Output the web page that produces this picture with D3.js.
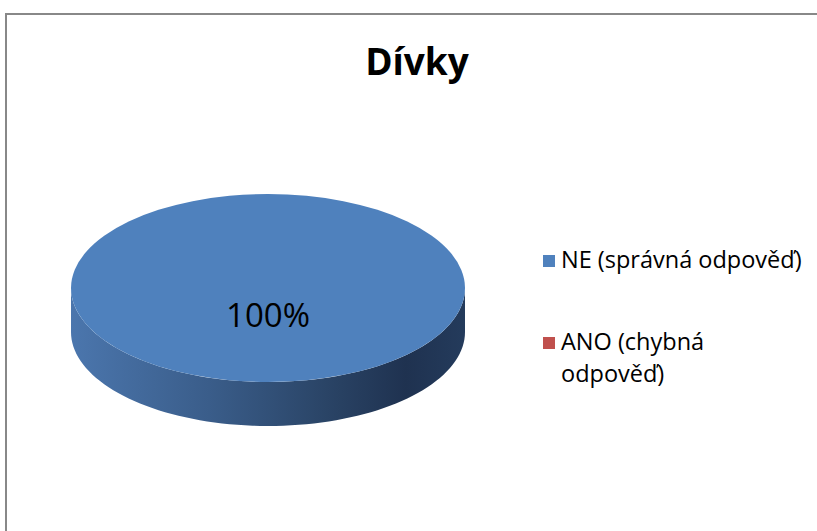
<!DOCTYPE html>
<html>
<head>
<meta charset="utf-8">
<script src="https://cdn.jsdelivr.net/npm/d3@7"></script>
<style>
body{margin:0;background:#fff;}
svg{display:block;font-family:"Open Sans",sans-serif;}
</style>
</head>
<body>
<svg id="chart" width="817" height="531"></svg>
<script>
// chart data
var title = "Dívky";
var categories = ["NE (správná odpověď)", "ANO (chybná odpověď)"];
var legendLines = [["NE (správná odpověď)"], ["ANO (chybná", "odpověď)"]];
var values = [100, 0];
var colors = ["#4f81bd", "#c0504d"];

var svg = d3.select("svg#chart");

// outer frame (only top + left edges fall inside the window)
svg.append("rect")
    .attr("x", 6).attr("y", 14)
    .attr("width", 900).attr("height", 700)
    .attr("fill", "#fff")
    .attr("stroke", "#888").attr("stroke-width", 2);

svg.append("text")
    .attr("x", 417).attr("y", 75)
    .attr("text-anchor", "middle")
    .attr("font-size", 37).attr("font-weight", "bold")
    .attr("fill", "#000")
    .text(title);

// 3d pie geometry
var cx = 268, cy = 288, rx = 197, ry = 94, depth = 44;
var total = d3.sum(values);
var pct = d3.scaleLinear().domain([0, total]).range([0, 100]);

var pie = d3.pie().sort(null).value(function(d){return d;});
var arcs = pie(values);

var defs = svg.append("defs");
var grad = defs.append("linearGradient")
    .attr("id", "sideGrad")
    .attr("gradientUnits", "userSpaceOnUse")
    .attr("x1", cx - rx).attr("x2", cx + rx)
    .attr("y1", 0).attr("y2", 0);
grad.append("stop").attr("offset", "0%").attr("stop-color", "#4b76ad");
grad.append("stop").attr("offset", "35%").attr("stop-color", "#3a5d8a");
grad.append("stop").attr("offset", "65%").attr("stop-color", "#2a4466");
grad.append("stop").attr("offset", "85%").attr("stop-color", "#1f3250");
grad.append("stop").attr("offset", "100%").attr("stop-color", "#243b5c");

var pt = function(a, dy){
    return [cx + rx * Math.sin(a), cy - ry * Math.cos(a) + dy];
};

// side walls: only the front half (pi/2 .. 3pi/2) is visible
var sides = svg.append("g");
arcs.forEach(function(d, i){
    if (d.endAngle - d.startAngle <= 0) return;
    var a0 = Math.max(d.startAngle, Math.PI / 2);
    var a1 = Math.min(d.endAngle, 3 * Math.PI / 2);
    if (a1 <= a0) return;
    var n = 80, top = [], bot = [];
    for (var k = 0; k <= n; k++) {
        var a = a0 + (a1 - a0) * k / n;
        top.push(pt(a, 0));
        bot.push(pt(a, depth));
    }
    var pts = top.concat(bot.reverse());
    sides.append("path")
        .attr("d", d3.line()(pts) + "Z")
        .attr("fill", i === 0 ? "url(#sideGrad)" : d3.color(colors[i]).darker(1));
});

// top surface
var arc = d3.arc().innerRadius(0).outerRadius(rx);
svg.append("g")
    .attr("transform", "translate(" + cx + "," + cy + ") scale(1," + (ry / rx) + ")")
    .selectAll("path")
    .data(arcs.filter(function(d){return d.endAngle > d.startAngle;}))
    .enter()
    .append("path")
    .attr("d", arc)
    .attr("fill", function(d){return colors[d.index];});

// data labels
arcs.forEach(function(d){
    if (d.value <= 0) return;
    var c = (d.endAngle - d.startAngle) >= 2 * Math.PI - 1e-6 ? [0, 0] : arc.centroid(d);
    svg.append("text")
        .attr("x", cx + c[0]).attr("y", cy + c[1] * ry / rx + 39)
        .attr("text-anchor", "middle")
        .attr("font-size", 33)
        .attr("fill", "#000")
        .text(Math.round(pct(d.value)) + "%");
});

// legend
var legendY = [261, 343];
var legend = svg.append("g");
categories.forEach(function(c, i){
    legend.append("rect")
        .attr("x", 543).attr("y", legendY[i] - 6)
        .attr("width", 12).attr("height", 12)
        .attr("fill", colors[i]);
    var t = legend.append("text")
        .attr("x", 561).attr("y", legendY[i] + 7)
        .attr("font-size", 23.5)
        .attr("fill", "#000");
    legendLines[i].forEach(function(line, j){
        t.append("tspan")
            .attr("x", 561)
            .attr("dy", j === 0 ? 0 : 32)
            .text(line);
    });
});
</script>
</body>
</html>
